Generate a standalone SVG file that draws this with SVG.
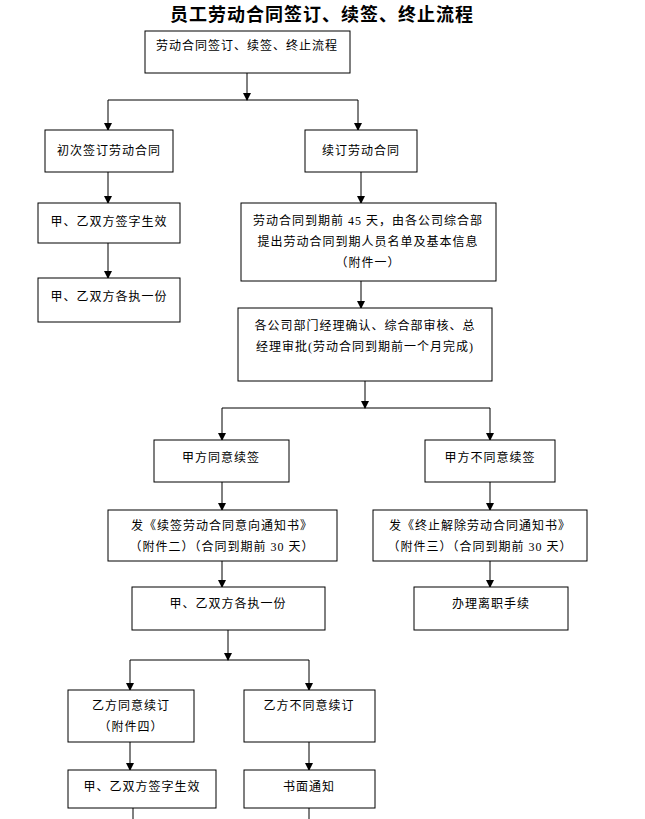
<svg xmlns="http://www.w3.org/2000/svg" width="645" height="819" viewBox="0 0 645 819">
<defs>
<marker id="ah" markerWidth="8" markerHeight="8" refX="7" refY="4" orient="auto" markerUnits="userSpaceOnUse"><path d="M0,0 L8,4 L0,8 z" fill="#000"/></marker>
<style>
rect{fill:#fff;stroke:#000;stroke-width:1}
text{font-family:"Liberation Serif","Noto Sans CJK SC",serif;font-size:12px;fill:#000;text-anchor:middle;letter-spacing:1px}
.c line,.c polyline{stroke:#000;stroke-width:1;fill:none}
.a{marker-end:url(#ah)}
.t{font-size:18px;font-weight:bold}
</style>
</defs>
<rect x="0" y="0" width="645" height="819" style="stroke:none"/>
<text class="t" x="322" y="21">员工劳动合同签订、续签、终止流程</text>
<g class="c">
<line class="a" x1="247" y1="73" x2="247" y2="100"/>
<line x1="108" y1="100" x2="358" y2="100"/>
<line class="a" x1="108" y1="100" x2="108" y2="130"/>
<line class="a" x1="358" y1="100" x2="358" y2="130"/>
<line class="a" x1="108" y1="172" x2="108" y2="203"/>
<line class="a" x1="108" y1="243" x2="108" y2="278"/>
<line class="a" x1="361" y1="172" x2="361" y2="203"/>
<line class="a" x1="361" y1="281" x2="361" y2="308"/>
<line class="a" x1="365" y1="381" x2="365" y2="408"/>
<line x1="222" y1="408" x2="490" y2="408"/>
<line class="a" x1="222" y1="408" x2="222" y2="440"/>
<line class="a" x1="490" y1="408" x2="490" y2="440"/>
<line class="a" x1="222" y1="482" x2="222" y2="510"/>
<line class="a" x1="490" y1="482" x2="490" y2="510"/>
<line class="a" x1="222" y1="561" x2="222" y2="587"/>
<line class="a" x1="490" y1="561" x2="490" y2="587"/>
<line class="a" x1="228" y1="630" x2="228" y2="660"/>
<line x1="130" y1="660" x2="309" y2="660"/>
<line class="a" x1="130" y1="660" x2="130" y2="690"/>
<line class="a" x1="309" y1="660" x2="309" y2="690"/>
<line class="a" x1="130" y1="742" x2="130" y2="770"/>
<line class="a" x1="309" y1="742" x2="309" y2="770"/>
<line x1="133" y1="808" x2="133" y2="819"/>
<line x1="309" y1="808" x2="309" y2="819"/>
</g>
<g id="n1"><rect x="145" y="31" width="205" height="42"/><text x="247" y="50">劳动合同签订、续签、终止流程</text></g>
<g id="n2"><rect x="45" y="130" width="128" height="42"/><text x="109" y="155">初次签订劳动合同</text></g>
<g id="n3"><rect x="305" y="130" width="112" height="42"/><text x="361" y="155">续订劳动合同</text></g>
<g id="n4"><rect x="38" y="203" width="142" height="40"/><text x="109" y="226">甲、乙双方签字生效</text></g>
<g id="n5"><rect x="38" y="278" width="142" height="44"/><text x="109" y="301">甲、乙双方各执一份</text></g>
<g id="n6"><rect x="241" y="203" width="255" height="78"/><text x="368" y="225">劳动合同到期前 45 天，由各公司综合部</text><text x="368" y="246">提出劳动合同到期人员名单及基本信息</text><text x="368" y="267">（附件一）</text></g>
<g id="n7"><rect x="238" y="308" width="254" height="73"/><text x="365" y="330">各公司部门经理确认、综合部审核、总</text><text x="365" y="351">经理审批(劳动合同到期前一个月完成)</text></g>
<g id="n8"><rect x="154" y="440" width="135" height="42"/><text x="221" y="462">甲方同意续签</text></g>
<g id="n9"><rect x="425" y="440" width="130" height="42"/><text x="490" y="462">甲方不同意续签</text></g>
<g id="n10"><rect x="108" y="510" width="229" height="51"/><text x="222" y="530">发《续签劳动合同意向通知书》</text><text x="222" y="551">（附件二）（合同到期前 30 天）</text></g>
<g id="n11"><rect x="373" y="510" width="214" height="51"/><text x="480" y="530">发《终止解除劳动合同通知书》</text><text x="480" y="551">（附件三）（合同到期前 30 天）</text></g>
<g id="n12"><rect x="132" y="587" width="193" height="43"/><text x="228" y="608">甲、乙双方各执一份</text></g>
<g id="n13"><rect x="414" y="587" width="154" height="43"/><text x="491" y="608">办理离职手续</text></g>
<g id="n14"><rect x="68" y="690" width="126" height="52"/><text x="131" y="710">乙方同意续订</text><text x="131" y="731">（附件四）</text></g>
<g id="n15"><rect x="244" y="690" width="131" height="52"/><text x="309" y="710">乙方不同意续订</text></g>
<g id="n16"><rect x="68" y="770" width="148" height="38"/><text x="142" y="791">甲、乙双方签字生效</text></g>
<g id="n17"><rect x="244" y="770" width="131" height="38"/><text x="309" y="791">书面通知</text></g>
</svg>
